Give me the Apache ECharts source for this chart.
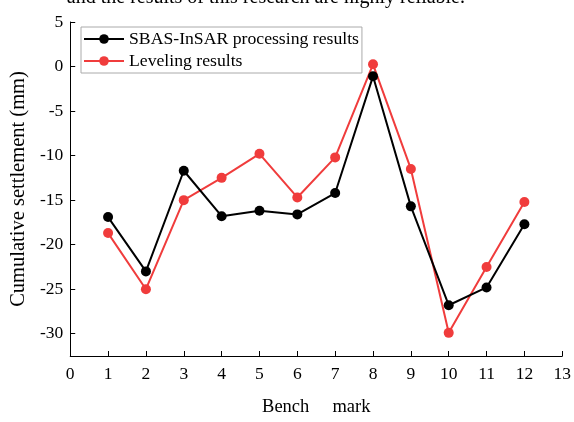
<!DOCTYPE html>
<html>
<head>
<meta charset="utf-8">
<script src="https://cdn.jsdelivr.net/npm/echarts@6/dist/echarts.min.js"></script>
<style>html,body{margin:0;padding:0;background:#fff;}#c{width:574px;height:422px;}</style>
</head>
<body>
<div id="c"></div>
<script>
var benchMarks = [1,2,3,4,5,6,7,8,9,10,11,12];
var sbasValues = [-16.9,-23.0,-11.7,-16.8,-16.2,-16.6,-14.2,-1.1,-15.7,-26.8,-24.8,-17.7];
var levelingValues = [-18.7,-25.0,-15.0,-12.5,-9.8,-14.7,-10.2,0.25,-11.5,-29.9,-22.5,-15.2];
var yTicks = [-30,-25,-20,-15,-10,-5,0,5];
var xTicks = [0,1,2,3,4,5,6,7,8,9,10,11,12,13];

var FONT = 'Liberation Serif';
function pairs(xs, ys){ return xs.map(function(x,i){ return [x, ys[i]]; }); }

var chart = echarts.init(document.getElementById('c'), null, {renderer:'canvas'});
chart.setOption({
  animation:false,
  backgroundColor:'#fff',
  textStyle:{fontFamily:FONT},
  graphic:[{
    type:'text', right:109, top:-12,
    style:{text:'and the results of this research are highly reliable.', font:'20px "Liberation Serif"', fill:'#000'}
  }],
  grid:{left:68, right:11, top:22, bottom:60, containLabel:false},
  legend:{
    orient:'vertical', left:81, top:27,
    padding:[3,3,3,2], itemGap:4,
    borderColor:'#aaa', borderWidth:1,
    itemWidth:40, itemHeight:12,
    textStyle:{fontFamily:FONT, fontSize:17.7, color:'#000'},
    data:['SBAS-InSAR processing results','Leveling results']
  },
  xAxis:{
    type:'value', min:0, max:13,
    name:'Bench     mark', nameLocation:'middle', nameGap:42,
    nameTextStyle:{fontFamily:FONT, fontSize:18.5, color:'#000'},
    axisLine:{show:true, onZero:false, lineStyle:{color:'#000', width:1}},
    axisTick:{show:true, inside:true, length:5, lineStyle:{color:'#000'}, customValues: xTicks},
    axisLabel:{fontFamily:FONT, fontSize:17.5, color:'#000', margin:9, customValues: xTicks},
    splitLine:{show:false}
  },
  yAxis:{
    type:'value', min:-32.5, max:5,
    name:'Cumulative settlement (mm)', nameLocation:'middle', nameGap:39,
    nameTextStyle:{fontFamily:FONT, fontSize:20.5, color:'#000'},
    axisLine:{show:true, onZero:false, lineStyle:{color:'#000', width:1}},
    axisTick:{show:true, inside:true, length:5, lineStyle:{color:'#000'}, customValues: yTicks},
    axisLabel:{fontFamily:FONT, fontSize:17.5, color:'#000', margin:7, customValues: yTicks},
    splitLine:{show:false}
  },
  series:[
    {name:'SBAS-InSAR processing results', type:'line', data:pairs(benchMarks,sbasValues),
     symbol:'circle', symbolSize:10, itemStyle:{color:'#000'}, lineStyle:{color:'#000', width:2}, z:3},
    {name:'Leveling results', type:'line', data:pairs(benchMarks,levelingValues),
     symbol:'circle', symbolSize:10, itemStyle:{color:'#f03c3c'}, lineStyle:{color:'#f03c3c', width:2}, z:2}
  ]
});
</script>
</body>
</html>
